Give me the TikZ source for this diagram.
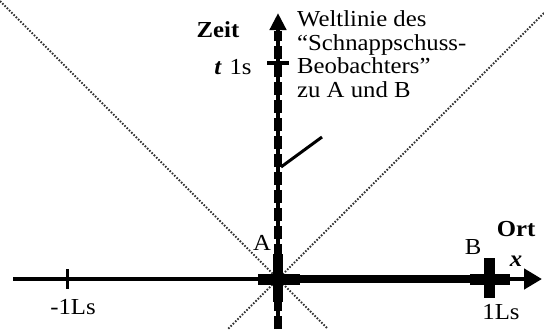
\documentclass[tikz,border=0pt]{standalone}
\usepackage{fontspec}
\setmainfont[FakeStretch=1.08]{Liberation Serif}
\usetikzlibrary{arrows.meta}
\begin{document}
\begin{tikzpicture}[x=1bp,y=-1bp,
  lbl/.style={font=\fontsize{23}{24}\selectfont, inner sep=0pt},
  cone/.style={draw=black!80, line width=1.8bp, dash pattern=on 1.6bp off 1.6bp},
  axisline/.style={line width=4.5bp},
  ticks/.style={line width=4.5bp}]
\fill[white] (0,0) rectangle (544,329);
\useasboundingbox (0,0) rectangle (544,329);
% coordinates
\coordinate (O) at (278,279);
\coordinate (xl) at (13,279);
\coordinate (xr) at (542,279);
\coordinate (tb) at (278,329);
\coordinate (tt) at (278,13);
\coordinate (ul) at (0,1);
\coordinate (ur) at (544,13);
\coordinate (dl) at (228,329);
\coordinate (dr) at (328,329);
% light cone
\draw[cone] (ul) -- (O) -- (dr);
\draw[cone] (ur) -- (O) -- (dl);
% space axis
\draw[axisline, -{Triangle[length=18bp,width=20bp]}] (xl) -- (xr);
\coordinate (hs) at (300,279);
\coordinate (he) at (470,279);
\coordinate (hb) at (510,279);
\draw[line width=8bp] (hs) -- (he);
\draw[line width=11bp] (258,279) -- (hs);
\draw[line width=11bp] (he) -- (hb);
% time axis
\draw[axisline, -{Triangle[length=17bp,width=16bp]}] (tb) -- (tt);
\draw[line width=8bp, dash pattern=on 13bp off 5bp] (tb) -- (278,31);
% events A and B
\coordinate (Aev) at (278,279);
\coordinate (Bev) at (489,279);
\draw[line width=10bp] (278,254) -- (278,302);
\draw[line width=11bp] (489,258) -- (489,298);
% ticks
\coordinate (t1) at (278,63);
\draw[ticks] (267,63) -- (289,63);
\coordinate (xm1) at (67,279);
\draw[line width=3bp] (67,269) -- (67,289);
% labels
\node[lbl, font=\fontsize{23}{24}\selectfont\bfseries] (zeit) at (218,30) {Zeit};
\node[lbl] (t1s) at (233,67) {\textbf{\textit{t}}\,\,1s};
\node[lbl, anchor=north west, align=left] (wl) at (297,10)
  {Weltlinie des\\“Schnappschuss-\\Beobachters”\\zu A und B};
\coordinate (pt) at (322,137);
\draw[line width=3bp] (281,167) -- (pt);
\node[lbl] (A) at (262,243) {A};
\node[lbl] (B) at (473,247) {B};
\node[lbl, font=\fontsize{23}{24}\selectfont\bfseries] (ort) at (516,229) {Ort};
\node[lbl, font=\fontsize{23}{24}\selectfont\bfseries\itshape] (x) at (516,261) {x};
\node[lbl] (oneLs) at (501,312) {1Ls};
\node[lbl] (mLs) at (73,307) {-1Ls};
\end{tikzpicture}
\end{document}
